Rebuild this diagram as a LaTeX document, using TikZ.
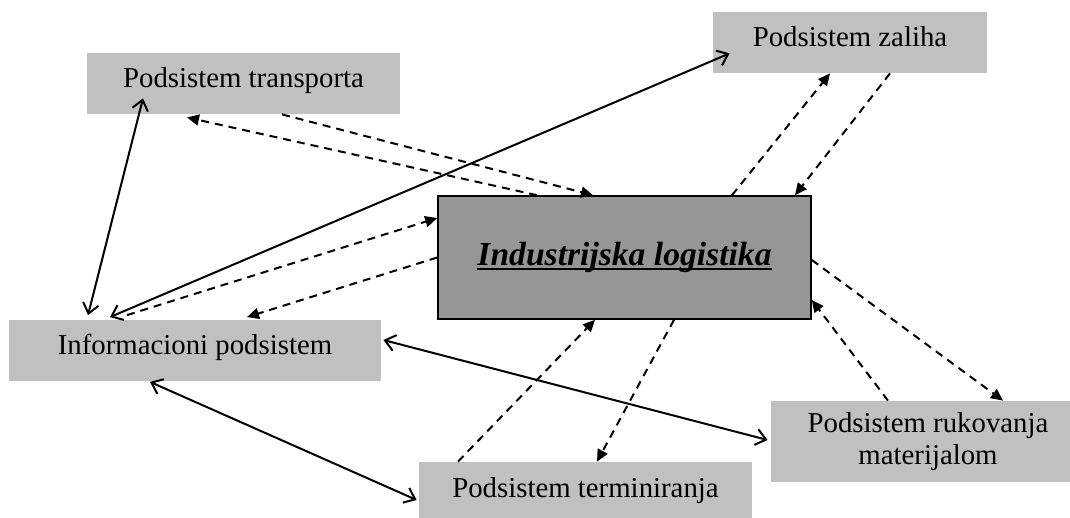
\documentclass[tikz,border=0pt]{standalone}
\usepackage{fontspec}
\setmainfont{Liberation Serif}
\usetikzlibrary{arrows.meta}
\definecolor{boxgray}{RGB}{192,192,192}
\definecolor{coregray}{RGB}{150,150,150}
\newcommand{\coreline}[1]{\setbox0\hbox{#1}\rlap{\rule[-2.6pt]{\wd0}{1.3pt}}\box0}
\begin{document}
\begin{tikzpicture}[x=0.5pt,y=-0.5pt,
    sub node/.style={fill=boxgray,inner sep=0pt,minimum height=30.5pt,font=\fontsize{14.4}{16}\selectfont,align=center},
    one line/.style={text height=10.5pt,text depth=6pt},
    core node/.style={draw,fill=coregray,line width=0.8pt,inner sep=0pt,minimum width=186.5pt,minimum height=61.5pt,
        text height=11pt,text depth=3.5pt,font=\fontsize{16.8}{19}\selectfont\bfseries\itshape},
    flow/.style={line width=1pt,dash pattern=on 4pt off 3pt,-{Triangle[length=6pt,width=5.5pt]}},
    link/.style={line width=1pt,{Straight Barb[length=5pt,width=8pt]}-{Straight Barb[length=5pt,width=8pt]}}]
    \useasboundingbox (0,0) rectangle (1070,518);
    \node[core node] (core) at (624.5,257.5) {\coreline{Industrijska logistika}};
    \node[sub node,one line,minimum width=156.5pt] (trans) at (243.5,83.5) {Podsistem transporta};
    \node[sub node,one line,minimum width=137pt] (zal) at (850,42.5) {Podsistem zaliha};
    \node[sub node,one line,minimum width=186pt] (info) at (195,350) {Informacioni podsistem};
    \node[sub node,one line,minimum width=166.5pt] (term) at (585.5,492.5) {Podsistem terminiranja};
    \node[sub node,minimum width=157pt,minimum height=40.5pt] (ruk) at (928,441.5) {Podsistem rukovanja\\materijalom};
    % veze sa informacionim podsistemom
    \path ([xshift=-50.25pt,yshift=8pt]trans.south) edge[link] ([xshift=-53.5pt,yshift=2pt]info.north)
        ([xshift=-42.5pt,yshift=1pt]info.north) edge[link] ([xshift=8.5pt,yshift=10pt]zal.south west)
        ([xshift=1pt,yshift=5pt]info.east) edge[link] ([xshift=-1.5pt,yshift=0.75pt]ruk.west)
        ([xshift=-22.5pt,yshift=-0.5pt]info.south) edge[link] ([xshift=-1pt,yshift=-3.75pt]term.west);
    % tokovi prema industrijskoj logistici
    \path ([xshift=-43.75pt]core.north) edge[flow] ([xshift=-28.25pt,yshift=-1.5pt]trans.south)
        ([xshift=19.25pt]trans.south) edge[flow] ([xshift=-15.75pt]core.north)
        ([xshift=-34pt,yshift=2pt]info.north) edge[flow] ([yshift=19.75pt]core.west)
        (core.west) edge[flow] ([xshift=26pt,yshift=1pt]info.north)
        ([xshift=53.75pt]core.north) edge[flow] ([xshift=-10pt]zal.south)
        ([xshift=20pt]zal.south) edge[flow] ([xshift=85.25pt]core.north)
        ([xshift=-63.75pt]term.north) edge[flow] ([xshift=-14.75pt]core.south)
        ([xshift=24.75pt]core.south) edge[flow] ([xshift=5.75pt]term.north)
        ([yshift=-1.25pt]core.east) edge[flow] ([xshift=37.5pt]ruk.north)
        ([xshift=-20pt]ruk.north) edge[flow] ([yshift=-21.25pt]core.east);
\end{tikzpicture}
\end{document}
